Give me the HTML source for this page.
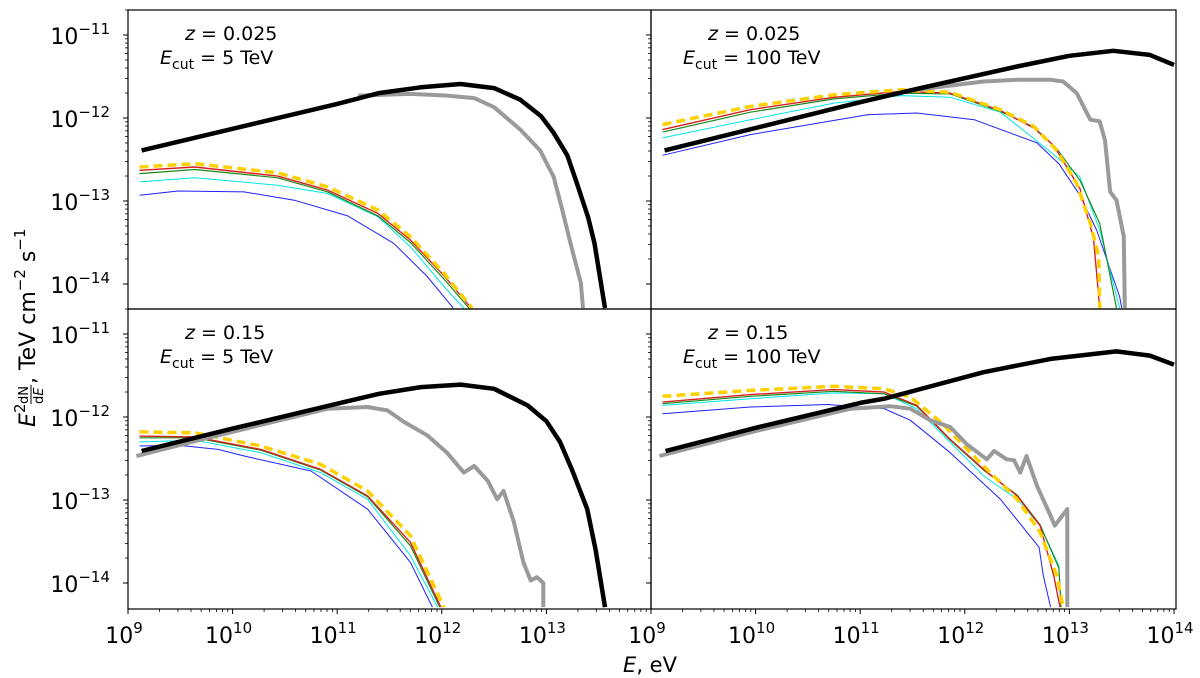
<!DOCTYPE html>
<html><head><meta charset="utf-8"><style>
html,body{margin:0;padding:0;background:#fff;}
svg{display:block;font-family:"DejaVu Sans","Liberation Sans",sans-serif;}
</style></head><body>
<svg id="chart" width="1200" height="678" viewBox="0 0 1200 678" xmlns="http://www.w3.org/2000/svg"></svg>
<script>
// ---------- data (log10 E [eV], log10 flux [TeV cm^-2 s^-1]) ----------
const xTicks = [9, 10, 11, 12, 13, 14];
const yTicks = [-11, -12, -13, -14];
const panelLabels = [["0.025", "5"], ["0.025", "100"], ["0.15", "5"], ["0.15", "100"]];

// top-left: z=0.025, Ecut=5 TeV
const tlBlackE = [9.13,10,11,11.4,11.8,12.18,12.5,12.75,12.95,13.07,13.2,13.29,13.4,13.46,13.56];
const tlBlackF = [-12.39,-12.13,-11.83,-11.70,-11.63,-11.59,-11.64,-11.78,-11.98,-12.18,-12.45,-12.78,-13.2,-13.51,-14.29];
const tlGrayE = [11.2,11.7,12.05,12.31,12.5,12.75,12.94,13.07,13.15,13.23,13.33,13.35];
const tlGrayF = [-11.73,-11.71,-11.73,-11.76,-11.87,-12.14,-12.39,-12.71,-13.1,-13.51,-13.99,-14.29];
const tlYellowE = [9.11,9.64,10.43,10.91,11.39,11.70,12.02,12.29];
const tlYellowF = [-12.59,-12.55,-12.66,-12.83,-13.11,-13.43,-13.87,-14.29];
const tlRedE = [9.11,9.64,10.43,10.91,11.39,11.70,12.02,12.28];
const tlRedF = [-12.63,-12.59,-12.70,-12.87,-13.15,-13.47,-13.90,-14.29];
const tlGreenE = [9.11,9.64,10.43,10.91,11.39,11.70,12.02,12.26];
const tlGreenF = [-12.67,-12.62,-12.72,-12.89,-13.18,-13.50,-13.94,-14.29];
const tlCyanE = [9.11,9.64,10.43,10.91,11.39,11.70,12.02,12.21];
const tlCyanF = [-12.77,-12.72,-12.81,-12.91,-13.19,-13.55,-14.03,-14.29];
const tlBlueE = [9.11,9.48,10.11,10.59,11.10,11.54,11.86,12.11];
const tlBlueF = [-12.93,-12.88,-12.89,-12.99,-13.18,-13.51,-13.91,-14.29];

// top-right: z=0.025, Ecut=100 TeV
const trBlackE = [9.13,10,11,11.54,12,12.5,13,13.42,13.77,14];
const trBlackF = [-12.39,-12.12,-11.81,-11.65,-11.52,-11.38,-11.25,-11.19,-11.24,-11.36];
const trGrayE = [11.54,11.86,12.18,12.5,12.82,12.94,13.07,13.2,13.29,13.34,13.39,13.45,13.52,13.53];
const trGrayF = [-11.66,-11.61,-11.56,-11.54,-11.54,-11.56,-11.70,-12.02,-12.04,-12.27,-12.89,-12.99,-13.43,-14.29];
const trYellowE = [9.11,9.95,10.75,11.39,11.86,12.34,12.66,12.88,13.07,13.20,13.28,13.29];
const trYellowF = [-12.08,-11.86,-11.72,-11.66,-11.69,-11.90,-12.10,-12.39,-12.79,-13.27,-13.67,-14.29];
const trRedE = [9.11,9.95,10.75,11.39,11.86,12.34,12.66,12.85,13.10,13.23,13.29];
const trRedF = [-12.14,-11.90,-11.75,-11.68,-11.70,-11.91,-12.12,-12.33,-12.85,-13.45,-14.29];
const trGreenE = [9.11,9.95,10.75,11.39,11.86,12.34,12.66,12.88,13.10,13.29,13.45];
const trGreenF = [-12.17,-11.93,-11.77,-11.70,-11.71,-11.92,-12.11,-12.37,-12.75,-13.27,-14.29];
const trCyanE = [9.11,9.95,10.75,11.39,11.86,12.34,12.82,13.10,13.29,13.48];
const trCyanF = [-12.24,-12.02,-11.82,-11.73,-11.75,-11.93,-12.41,-12.71,-13.35,-14.29];
const trBlueE = [9.11,9.95,11.07,11.54,12.09,12.69,12.90,13.10,13.26,13.48,13.50];
const trBlueF = [-12.45,-12.20,-11.96,-11.94,-12.02,-12.30,-12.55,-12.93,-13.35,-14.15,-14.29];

// bottom-left: z=0.15, Ecut=5 TeV
const blBlackE = [9.13,10,11,11.4,11.8,12.18,12.5,12.82,13.0,13.13,13.25,13.39,13.47,13.56];
const blBlackF = [-12.41,-12.14,-11.84,-11.72,-11.64,-11.61,-11.66,-11.86,-12.05,-12.30,-12.65,-13.11,-13.6,-14.29];
const blGrayE = [9.08,9.8,10.91,11.29,11.48,11.64,11.86,12.05,12.21,12.31,12.44,12.53,12.59,12.69,12.78,12.85,12.91,12.97,12.97];
const blGrayF = [-12.47,-12.24,-11.90,-11.88,-11.92,-12.06,-12.22,-12.43,-12.67,-12.59,-12.77,-12.99,-12.89,-13.27,-13.75,-13.97,-13.93,-14.0,-14.29];
const blYellowE = [9.11,9.64,10.27,10.84,11.29,11.70,12.02];
const blYellowF = [-12.18,-12.19,-12.35,-12.57,-12.89,-13.43,-14.29];
const blRedE = [9.11,9.64,10.27,10.84,11.29,11.70,11.99];
const blRedF = [-12.23,-12.24,-12.39,-12.63,-12.95,-13.51,-14.29];
const blGreenE = [9.11,9.64,10.27,10.84,11.29,11.70,11.98];
const blGreenF = [-12.25,-12.25,-12.40,-12.64,-12.96,-13.55,-14.29];
const blCyanE = [9.11,9.64,10.27,10.84,11.29,11.70,11.96];
const blCyanF = [-12.30,-12.28,-12.43,-12.67,-12.99,-13.67,-14.29];
const blBlueE = [9.11,9.48,9.86,10.11,10.75,11.29,11.70,11.91];
const blBlueF = [-12.35,-12.34,-12.39,-12.47,-12.65,-13.11,-13.75,-14.29];

// bottom-right: z=0.15, Ecut=100 TeV
const brBlackE = [9.14,10,11,11.23,12.18,12.82,13.45,13.77,14];
const brBlackF = [-12.41,-12.13,-11.83,-11.78,-11.46,-11.30,-11.21,-11.26,-11.37];
const brGrayE = [9.08,10,10.91,11.29,11.48,11.67,11.86,12.02,12.21,12.28,12.40,12.47,12.53,12.59,12.69,12.82,12.86,12.98,12.98];
const brGrayF = [-12.47,-12.17,-11.90,-11.87,-11.90,-12.04,-12.12,-12.33,-12.51,-12.41,-12.51,-12.52,-12.67,-12.47,-12.83,-13.19,-13.31,-13.11,-14.29];
const brYellowE = [9.11,9.95,10.75,11.23,11.48,11.77,12.18,12.50,12.72,12.88,12.94];
const brYellowF = [-11.75,-11.68,-11.63,-11.66,-11.76,-12.06,-12.59,-12.99,-13.39,-13.91,-14.29];
const brRedE = [9.11,9.95,10.75,11.23,11.54,11.86,12.18,12.50,12.72,12.85,12.91];
const brRedF = [-11.82,-11.73,-11.67,-11.70,-11.86,-12.27,-12.63,-12.95,-13.31,-13.91,-14.29];
const brGreenE = [9.11,9.95,10.75,11.23,11.54,11.86,12.18,12.50,12.72,12.90,12.92];
const brGreenF = [-11.84,-11.75,-11.69,-11.72,-11.87,-12.28,-12.64,-12.94,-13.30,-13.82,-14.29];
const brCyanE = [9.11,9.95,10.75,11.23,11.54,12.18,12.50,12.72,12.90,12.92];
const brCyanF = [-11.86,-11.78,-11.71,-11.72,-11.90,-12.71,-12.99,-13.31,-13.79,-14.29];
const brBlueE = [9.11,9.95,10.69,11.23,11.48,11.86,12.34,12.71,12.75,12.82];
const brBlueF = [-11.96,-11.88,-11.85,-11.90,-12.04,-12.43,-12.99,-13.57,-13.91,-14.29];

// ---------- rendering ----------
const NS = "http://www.w3.org/2000/svg";
const svg = document.getElementById("chart");
const panels = [
  {x0:128, x1:651, y0:10, y1:309, key:"top-left"},
  {x0:651, x1:1176, y0:10, y1:309, key:"top-right"},
  {x0:128, x1:651, y0:309, y1:609, key:"bottom-left"},
  {x0:651, x1:1176, y0:309, y1:609, key:"bottom-right"}
];
const panelSeries = [
  [tlBlueE,tlBlueF,tlCyanE,tlCyanF,tlGreenE,tlGreenF,tlRedE,tlRedF,tlYellowE,tlYellowF,tlGrayE,tlGrayF,tlBlackE,tlBlackF],
  [trBlueE,trBlueF,trCyanE,trCyanF,trGreenE,trGreenF,trRedE,trRedF,trYellowE,trYellowF,trGrayE,trGrayF,trBlackE,trBlackF],
  [blBlueE,blBlueF,blCyanE,blCyanF,blGreenE,blGreenF,blRedE,blRedF,blYellowE,blYellowF,blGrayE,blGrayF,blBlackE,blBlackF],
  [brBlueE,brBlueF,brCyanE,brCyanF,brGreenE,brGreenF,brRedE,brRedF,brYellowE,brYellowF,brGrayE,brGrayF,brBlackE,brBlackF]
];
const styles = [
  {name:"blue", stroke:"#2020ff", w:1, dash:""},
  {name:"cyan", stroke:"#00e5e5", w:1, dash:""},
  {name:"green", stroke:"#1a8a1a", w:1.2, dash:""},
  {name:"red", stroke:"#d62020", w:1.4, dash:""},
  {name:"yellow-dashed", stroke:"#ffd000", w:3.5, dash:"9,5"},
  {name:"gray", stroke:"#9a9a9a", w:4, dash:""},
  {name:"black", stroke:"#000000", w:4.5, dash:""}
];
function mk(tag, attrs, parent){const e=document.createElementNS(NS,tag);for(const k in attrs)e.setAttribute(k,attrs[k]);(parent||svg).appendChild(e);return e;}
const DEC_X = (651-128)/5;
const DEC_Y = 83;
function xScale(p, logE){return p.x0 + (logE-9)*DEC_X;}
function yScale(p, logF){return p.y0 + 25 + (-11 - logF)*DEC_Y;}

const defs = mk("defs",{});
panels.forEach((p,i)=>{
  const cp = mk("clipPath",{id:"clip"+i},defs);
  mk("rect",{x:p.x0,y:p.y0,width:p.x1-p.x0,height:p.y1-p.y0},cp);
});

panels.forEach((p,i)=>{
  const g = mk("g",{});
  
  
  const lines = mk("g",{"clip-path":"url(#clip"+i+")"},g);
  const s = panelSeries[i];
  for(let k=0;k<styles.length;k++){
    const E = s[2*k], F = s[2*k+1];
    const pts = E.map((e,j)=>xScale(p,e).toFixed(1)+","+yScale(p,F[j]).toFixed(1)).join(" ");
    const pl = mk("polyline",{points:pts,fill:"none",stroke:styles[k].stroke,"stroke-width":styles[k].w,"stroke-linejoin":"round"},lines);
    if(styles[k].dash) pl.setAttribute("stroke-dasharray",styles[k].dash);
    
    
  }
  mk("rect",{x:p.x0,y:p.y0,width:p.x1-p.x0,height:p.y1-p.y0,fill:"none",stroke:"#000","stroke-width":1.2},g);
  yTicks.forEach(t=>{
    const y=yScale(p,t);
    mk("line",{x1:p.x0-5,x2:p.x0,y1:y,y2:y,stroke:"#000","stroke-width":1},g);
    for(let m=2;m<=9;m++){
      const ym=yScale(p,t+Math.log10(m));
      if(ym>p.y0&&ym<p.y1) mk("line",{x1:p.x0-3,x2:p.x0,y1:ym,y2:ym,stroke:"#000","stroke-width":0.8},g);
    }
    if(i===0||i===2){
      const tx = mk("text",{x:p.x0-18,y:y+9,"text-anchor":"end","font-size":22,fill:"#000"},g);
      tx.textContent="10";
      const sp = mk("tspan",{dy:-10,"font-size":15},tx);
      sp.textContent="\u2212"+(-t);
      
      
    }
  });
  if(i>=2){
    xTicks.forEach(t=>{
      const x=xScale(p,t);
      if(x>p.x1+1) return;
      mk("line",{x1:x,x2:x,y1:p.y1,y2:p.y1+5,stroke:"#000","stroke-width":1},g);
      if(t<14) for(let m=2;m<=9;m++){
        const xm=xScale(p,t+Math.log10(m));
        mk("line",{x1:xm,x2:xm,y1:p.y1,y2:p.y1+3,stroke:"#000","stroke-width":0.8},g);
      }
      if(i===2 && t===14) return;
      const tx = mk("text",{x:x-4,y:643,"text-anchor":"middle","font-size":22,fill:"#000"},g);
      tx.textContent="10";
      const sp = mk("tspan",{dy:-10,"font-size":15},tx);
      sp.textContent=String(t);
      
      
    });
  }
  const a1 = mk("text",{x:p.x0+57,y:p.y0+30,"font-size":19,fill:"#000"},g);
  a1.innerHTML = '<tspan font-style="italic">z</tspan> = '+panelLabels[i][0];
  
  
  const a2 = mk("text",{x:p.x0+32,y:p.y0+54,"font-size":19,fill:"#000"},g);
  a2.innerHTML = '<tspan font-style="italic">E</tspan><tspan font-size="14" dy="5">cut</tspan><tspan dy="-5"> = '+panelLabels[i][1]+' TeV</tspan>';
  
  
});

const xt = mk("text",{x:650,y:672,"text-anchor":"middle","font-size":21,fill:"#000"});
xt.innerHTML='<tspan font-style="italic">E</tspan>, eV';



const yg = mk("g",{transform:"translate(35,312) rotate(-90)"});


const yE = mk("text",{x:-115,y:0,"font-size":22,"font-style":"italic",fill:"#000"},yg);
yE.textContent="E";
const y2 = mk("text",{x:-101,y:-10,"font-size":15,fill:"#000"},yg);
y2.textContent="2";
const yN = mk("text",{x:-92,y:-7,"font-size":13,fill:"#000"},yg);
yN.textContent="dN";
mk("line",{x1:-92,x2:-73,y1:-4,y2:-4,stroke:"#000","stroke-width":1},yg);
const yD = mk("text",{x:-92,y:8,"font-size":13,fill:"#000"},yg);
yD.innerHTML='d<tspan font-style="italic">E</tspan>';
const yR = mk("text",{x:-72,y:0,"font-size":22,fill:"#000"},yg);
yR.innerHTML=',  TeV cm<tspan font-size="15" dy="-10">\u22122</tspan><tspan dy="10"> s</tspan><tspan font-size="15" dy="-10">\u22121</tspan>';
</script>
</body></html>
